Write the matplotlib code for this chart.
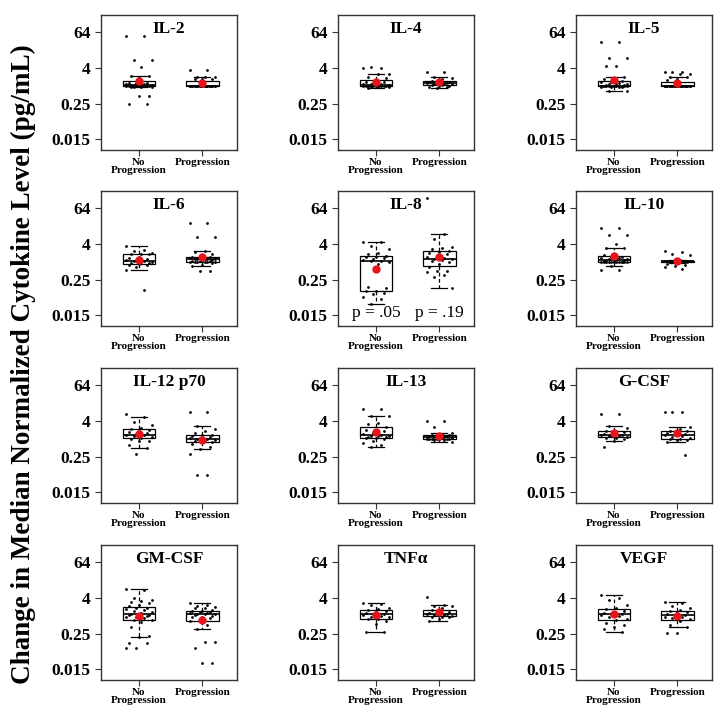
import matplotlib
matplotlib.use("Agg")
import matplotlib.pyplot as plt
import numpy as np

plt.rcParams['font.family'] = ['Liberation Serif', 'DejaVu Serif']

# log2 of the change in median normalized cytokine level
cytokines = ["IL-2", "IL-4", "IL-5", "IL-6", "IL-8", "IL-10",
             "IL-12 p70", "IL-13", "G-CSF", "GM-CSF", "TNFα", "VEGF"]
groups = ["No\nProgression", "Progression"]

il2_np = [5.6, 5.6, 2.9, 2.9, 2.05, 1.05, 1.05, 1.0, 0.33, 0.33, 0.25, 0.2, 0.15, 0.1,
          0.1, 0.05, 0.05, 0.0, 0.0, 0.0, 0.0, 0.0, -0.05, -0.05, -0.1, -0.1, -0.1,
          -0.11, -1.15, -1.15, -2.05, -2.05]
il2_p = [1.7, 1.7, 1.0, 1.0, 1.0, 0.7, 0.7, 0.7] + [0.0] * 20 + [-0.05, -0.05]

il4_np = [2.0, 2.0, 2.05, 1.35, 1.3, 1.0, 0.8, 0.5, 0.44, 0.4, 0.3, 0.2, 0.15, 0.15,
          0.1, 0.05, 0.0, 0.0, 0.0, 0.0, 0.0, 0.0, 0.0, -0.05, -0.1, -0.11, -0.2, -0.3]
il4_p = [1.5, 1.5, 1.0, 0.9, 0.7, 0.5, 0.45, 0.44, 0.4, 0.35, 0.3, 0.25, 0.22, 0.2,
         0.15, 0.1, 0.05, 0.0, 0.0, -0.1, -0.2, -0.22]

il5_np = [4.85, 4.85, 3.05, 3.05, 2.2, 2.2, 1.0, 0.9, 0.7, 0.5, 0.4, 0.4, 0.3, 0.2,
          0.15, 0.15, 0.1, 0.05, 0.0, 0.0, 0.0, 0.0, 0.0, 0.0, 0.0, 0.0, 0.0, 0.0,
          0.0, 0.0, -0.05, -0.1, -0.1, -0.15, -0.2, -0.63, -0.63]
il5_p = [1.5, 1.5, 1.5, 1.3, 1.25, 1.0, 0.95, 0.7, 0.6] + [0.0] * 25

il6_np = [1.7, 1.3, 1.15, 1.0, 0.9, 0.85, 0.8, 0.5, 0.4, 0.3, 0.2, 0.15, 0.1, 0.1,
          0.0, 0.0, -0.1, -0.2, -0.3, -0.33, -0.4, -0.6, -0.9, -3.2]
il6_p = [4.37, 4.37, 2.74, 2.74, 1.15, 1.1, 0.9, 0.6, 0.52, 0.5, 0.45, 0.4, 0.35,
         0.3, 0.3, 0.3, 0.25, 0.2, 0.15, 0.1, 0.05, 0.04, 0.0, 0.0, 0.0, 0.0, 0.0,
         0.0, -0.2, -0.4, -0.5, -1.0, -1.0]

il8_np = [2.2, 2.15, 1.8, 1.37, 1.0, 0.8, 0.6, 0.56, 0.5, 0.4, 0.3, 0.2, 0.11, 0.1,
          0.0, -0.3, -2.8, -3.0, -3.26, -3.3, -3.5, -3.6, -4.0, -4.15, -4.74]
il8_p = [7.1, 3.04, 2.5, 1.67, 1.5, 1.4, 1.2, 1.1, 0.93, 0.8, 0.6, 0.5, 0.4, 0.3,
         0.26, 0.2, 0.1, 0.0, -0.3, -0.6, -1.0, -1.1, -1.2, -1.5, -1.7, -2.96]

il10_np = [3.74, 3.74, 2.93, 2.93, 1.96, 1.5, 1.5, 0.9, 0.7, 0.52, 0.5, 0.45, 0.4,
           0.3, 0.25, 0.22, 0.2, 0.15, 0.1, 0.05, 0.0, 0.0, 0.0, 0.0, 0.0, 0.0, 0.0,
           0.0, 0.0, 0.0, 0.0, -0.05, -0.5, -0.96, -0.96]
il10_p = [1.15, 1.1, 0.9, 0.7, 0.15] + [0.1] * 12 + [0.0, -0.2, -0.3, -0.4, -0.5,
                                                   -0.6, -0.8]

il12_np = [2.7, 2.4, 1.9, 1.5, 1.2, 1.04, 1.0, 0.9, 0.7, 0.6, 0.5, 0.4, 0.4, 0.3,
           0.2, 0.1, 0.0, -0.22, -0.3, -0.7, -1.0, -1.74]
il12_p = [3.0, 3.0, 1.4, 1.1, 0.8, 0.6, 0.41, 0.4, 0.3, 0.2, 0.1, 0.05, 0.0, 0.0,
          -0.1, -0.2, -0.3, -0.4, -0.41, -0.6, -0.9, -1.2, -1.74, -4.04, -4.04]

il13_np = [3.37, 3.37, 2.52, 2.52, 1.7, 1.6, 1.3, 1.0, 0.96, 0.8, 0.6, 0.5, 0.4, 0.3,
           0.3, 0.25, 0.2, 0.15, 0.11, 0.1, 0.0, -0.26, -0.5, -0.7, -0.9]
il13_p = [2.0, 1.96, 1.26, 0.67, 0.5, 0.41, 0.4, 0.35, 0.3, 0.25, 0.22, 0.2, 0.2,
          0.15, 0.1, 0.05, 0.0, 0.0, 0.0, 0.0, 0.0, 0.0, 0.0, -0.1, -0.2, -0.33]

gcsf_np = [2.7, 2.7, 1.44, 1.2, 0.89, 0.8, 0.7, 0.6, 0.5, 0.45, 0.4, 0.4, 0.35, 0.3,
           0.2, 0.1, 0.04, 0.0, -0.3, -0.9]
gcsf_p = [2.93, 2.93, 2.93, 1.33, 1.1, 0.85, 0.8, 0.7, 0.6, 0.5, 0.4, 0.4, 0.3, 0.2,
          0.1, 0.0, -0.04, -0.1, -0.2, -0.33, -1.85]

gmcsf_np = [3.0, 2.9, 2.0, 1.8, 1.6, 1.5, 1.4, 1.2, 1.04, 0.9, 0.8, 0.7, 0.6, 0.5,
            0.4, 0.3, 0.2, 0.1, 0.1, 0.04, 0.0, -0.1, -0.2, -0.3, -0.5, -0.52, -0.7,
            -1.3, -2.3, -2.4, -3.04, -3.04, -3.67, -3.67]
gmcsf_p = [1.37, 1.2, 1.1, 1.0, 0.9, 0.8, 0.6, 0.5, 0.48, 0.4, 0.4, 0.3, 0.3, 0.2,
           0.2, 0.19, 0.1, 0.0, -0.1, -0.2, -0.3, -0.44, -0.6, -1.0, -1.48, -2.93,
           -2.93, -3.67, -5.26, -5.26]

tnfa_np = [1.37, 1.3, 1.2, 0.9, 0.78, 0.6, 0.5, 0.4, 0.3, 0.2, 0.15, 0.1, 0.0, -0.1,
           -0.2, -0.37, -0.4, -0.6, -0.89, -1.81, -1.81]
tnfa_p = [2.07, 1.15, 1.1, 1.1, 0.89, 0.6, 0.41, 0.4, 0.3, 0.2, 0.15, 0.15, 0.1, 0.1,
          0.0, -0.1, -0.15, -0.2, -0.4, -0.59]

vegf_np = [2.3, 2.0, 1.74, 1.2, 0.89, 0.7, 0.5, 0.4, 0.3, 0.22, 0.2, 0.1, 0.0, -0.2,
           -0.41, -0.5, -0.8, -1.0, -1.3, -1.5, -1.81]
vegf_p = [1.52, 1.4, 1.1, 0.9, 0.63, 0.5, 0.4, 0.3, 0.2, 0.07, 0.0, -0.1, -0.2, -0.3,
          -0.41, -0.6, -1.0, -1.3, -1.96, -1.96]

panels = [(il2_np, il2_p), (il4_np, il4_p), (il5_np, il5_p),
          (il6_np, il6_p), (il8_np, il8_p), (il10_np, il10_p),
          (il12_np, il12_p), (il13_np, il13_p), (gcsf_np, gcsf_p),
          (gmcsf_np, gmcsf_p), (tnfa_np, tnfa_p), (vegf_np, vegf_p)]

ytick_vals = [-6, -2, 2, 6]
ytick_labels = ["0.015", "0.25", "4", "64"]
pvals = {"IL-8": ["p = .05", "p = .19"]}

fig = plt.figure(figsize=(7.21, 7.19), dpi=100)
W, H = 721, 719
col_x = [101, 338, 576]
row_y = [15, 191, 368, 545]
aw, ah = 136, 135


def jitter(n):
    # fixed spread pattern so the points sit side by side
    return np.array([((i * 7) % 11 - 5) / 5 * 0.2 for i in range(n)])


for k, (name, (a, b)) in enumerate(zip(cytokines, panels)):
    r, c = divmod(k, 3)
    ax = fig.add_axes([col_x[c] / W, 1 - (row_y[r] + ah) / H, aw / W, ah / H])
    data = [np.array(a), np.array(b)]
    ax.boxplot(data, positions=[1, 2], widths=0.52, showfliers=False,
               patch_artist=True,
               boxprops=dict(facecolor="white", edgecolor="black", linewidth=0.9),
               medianprops=dict(color="black", linewidth=1.2),
               whiskerprops=dict(color="black", linewidth=0.9, linestyle=(0, (3, 2))),
               capprops=dict(color="black", linewidth=0.9), capwidths=0.26)
    for pos, d in zip([1, 2], data):
        ax.scatter(pos + jitter(len(d)), d, s=4, color="black", zorder=3, linewidths=0)
        ax.plot(pos, d.mean(), "o", color="#e8141c", ms=5, zorder=4)
    ax.set_xlim(0.4, 2.55)
    ax.set_ylim(-7.2, 7.9)
    ax.set_xticks([1, 2])
    ax.set_xticklabels(groups, fontsize=8, fontweight="bold", linespacing=0.8)
    ax.set_yticks(ytick_vals)
    ax.set_yticklabels(ytick_labels, fontsize=12.5, fontweight="bold")
    ax.tick_params(axis="both", direction="out", length=4, width=0.8, color="#333333")
    ax.tick_params(axis="x", pad=2)
    for s in ax.spines.values():
        s.set_color("#333333")
        s.set_linewidth(1.0)
    ax.text(0.5, 0.895, name, transform=ax.transAxes, ha="center", va="center",
            fontsize=12.5, fontweight="bold")
    if name in pvals:
        for pos, t in zip([1, 2], pvals[name]):
            ax.text(pos, -5.7, t, ha="center", va="center", fontsize=12.5)

fig.text(0.032, 0.493, "Change in Median Normalized Cytokine Level (pg/mL)",
         rotation=90, ha="center", va="center", fontsize=19.5, fontweight="bold")

fig.savefig("out.png", dpi=100)
